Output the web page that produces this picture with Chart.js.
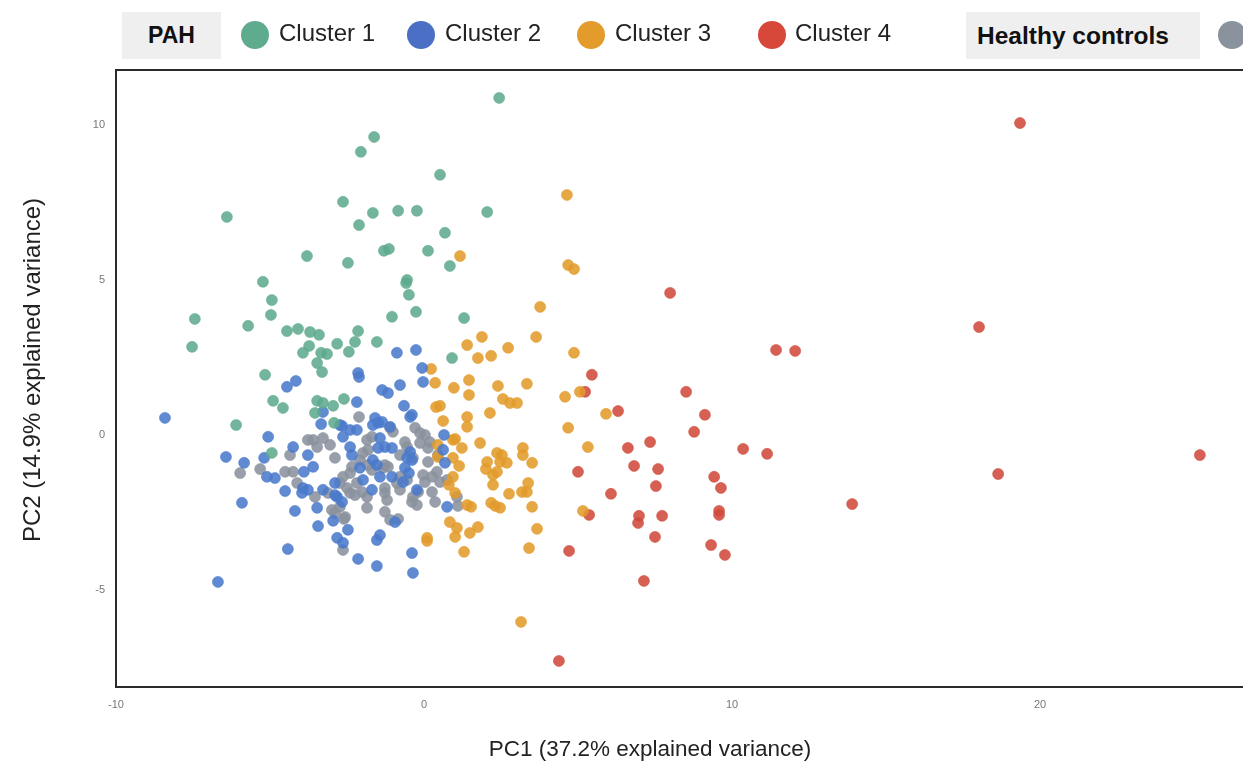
<!DOCTYPE html>
<html>
<head>
<meta charset="utf-8">
<script src="https://cdn.jsdelivr.net/npm/chart.js@4"></script>
<style>
  html, body { margin: 0; padding: 0; background: #fff; overflow: hidden; }
  #wrap { position: relative; width: 1243px; height: 766px; font-family: "Liberation Sans", Arial, sans-serif; }
  #chart { position: absolute; left: 0; top: 0; }
  .box { position: absolute; top: 12px; height: 47px; background: #efefef; font-weight: bold; color: #111;
         display: flex; align-items: center; justify-content: center; }
  .dot { position: absolute; top: 21px; width: 28px; height: 28px; border-radius: 50%; }
  .lab { position: absolute; top: 18px; font-size: 24px; color: #222; line-height: 30px; white-space: nowrap; }
</style>
</head>
<body>
<div id="wrap">
  <canvas id="chart" width="1243" height="766"></canvas>
  <div class="box" style="left:122px;width:99px;font-size:23px;">PAH</div>
  <div class="dot" style="left:241px;background:#5fab8e;"></div>
  <div class="lab" style="left:279px;">Cluster 1</div>
  <div class="dot" style="left:407px;background:#4a6fc4;"></div>
  <div class="lab" style="left:445px;">Cluster 2</div>
  <div class="dot" style="left:577px;background:#e39b2b;"></div>
  <div class="lab" style="left:615px;">Cluster 3</div>
  <div class="dot" style="left:758px;background:#d7473a;"></div>
  <div class="lab" style="left:795px;">Cluster 4</div>
  <div class="box" style="left:966px;width:234px;font-size:24.5px;justify-content:flex-start;padding-left:11px;box-sizing:border-box;">Healthy controls</div>
  <div class="dot" style="left:1218px;background:#8a929e;"></div>
</div>
<script>
// PCA scores, [PC1, PC2]
const cluster1 = [
  [2.44,10.87],[-1.62,9.61],[-2.05,9.13],[0.52,8.39],[-2.63,7.52],[-6.40,7.03],[-1.66,7.16],
  [-0.84,7.23],[-0.23,7.23],[2.05,7.19],[-2.11,6.77],[0.68,6.52],[-1.30,5.94],[-1.14,6.00],
  [0.13,5.94],[-3.80,5.77],[-2.47,5.55],[0.84,5.45],[-5.23,4.94],[-0.55,5.00],[-0.58,4.90],
  [-4.94,4.35],[-0.49,4.52],[-4.97,3.87],[-7.44,3.74],[-0.26,3.97],[-1.04,3.81],[1.30,3.77],
  [-5.71,3.52],[-7.53,2.84],[-4.45,3.35],[-4.09,3.42],[-3.70,3.32],[-3.41,3.23],[-2.14,3.35],
  [-2.24,3.00],[-2.82,2.94],[-3.73,2.87],[-1.53,3.00],[-2.44,2.68],[-3.93,2.65],[-3.34,2.65],
  [-3.15,2.61],[0.91,2.48],[-3.47,2.32],[-3.31,2.03],[-5.16,1.94],[-4.90,1.10],[-4.58,0.87],
  [-3.47,1.10],[-3.28,1.03],[-2.95,0.94],[-2.60,1.16],[-3.54,0.71],[-6.10,0.32],[-2.92,0.39],
  [-4.94,-0.58]
];
const cluster2 = [
  [-0.88,2.65],[-0.26,2.74],[-4.45,1.55],[-4.16,1.74],[-3.28,0.74],[-8.41,0.55],[-3.34,0.35],
  [-2.66,0.29],[-5.06,-0.06],[-4.25,-0.39],[-6.43,-0.71],[-5.84,-0.90],[-5.19,-0.74],[-5.10,-1.35],
  [-4.84,-1.39],[-3.90,-1.19],[-4.51,-1.81],[-3.93,-1.71],[-3.96,-1.87],[-3.28,-1.77],[-2.89,-1.55],
  [-5.91,-2.19],[-4.19,-2.45],[-3.47,-2.35],[-2.95,-2.77],[-3.44,-2.94],[-2.82,-2.00],[-2.66,-2.16],
  [-2.82,-3.32],[-2.63,-3.48],[-4.42,-3.68],[-6.69,-4.74],[-2.14,2.00],[-2.11,1.87],[-0.06,2.16],
  [-0.03,1.71],[-0.78,1.61],[-1.36,1.45],[-1.17,1.35],[-2.18,1.06],[-0.65,0.94],[-0.39,0.65],
  [-1.59,0.55],[-1.36,0.42],[-2.40,0.16],[-2.18,0.16],[-1.10,0.26],[0.65,0.00],[-2.63,-0.06],
  [-2.40,-0.39],[-2.34,-0.65],[-1.43,-0.10],[-1.27,-0.39],[-1.49,-0.42],[-1.66,-0.81],[-0.55,-0.74],
  [-0.45,-0.55],[-0.39,-0.81],[-3.60,-1.03],[-2.08,-1.06],[-1.43,-1.35],[-1.04,-1.35],[0.68,-0.90],
  [-0.62,-1.06],[-0.49,-1.23],[-3.77,-1.77],[-2.89,-1.94],[-1.69,-1.77],[0.75,-2.32],[-2.47,-3.06],
  [-1.53,-3.39],[-1.43,-3.23],[-2.14,-4.00],[-1.53,-4.23],[-0.39,-3.81],[-0.36,-4.45],[0.62,-0.48],
  [-0.45,0.58],[-1.49,0.39],[-1.04,-0.42],[-1.53,-0.97],[-0.68,-1.52],[-0.23,-1.77],[-0.94,-2.81],
  [-3.77,-0.65],[-2.73,0.32],[-1.98,-1.45],[-1.66,0.32]
];
const cluster3 = [
  [1.17,5.77],[1.40,2.90],[1.88,3.16],[2.73,2.81],[1.75,2.48],[2.18,2.55],[0.23,2.13],[0.36,1.68],
  [0.97,1.52],[0.39,0.90],[0.52,0.94],[0.62,0.45],[0.94,-0.16],[0.94,-1.35],[1.01,-1.87],[0.10,-3.32],
  [0.84,-2.81],[1.07,-3.00],[1.01,-3.29],[4.64,7.74],[4.68,5.48],[4.87,5.35],[3.77,4.13],[3.64,3.16],
  [4.87,2.65],[1.46,1.77],[1.46,1.29],[2.40,1.58],[3.34,1.65],[4.58,1.23],[5.06,1.39],[2.56,1.16],
  [2.79,1.03],[3.02,1.03],[2.14,0.71],[1.40,0.58],[1.40,0.26],[4.68,0.23],[5.32,-0.39],[1.82,-0.26],
  [1.01,-0.13],[1.23,-0.42],[3.21,-0.42],[3.21,-0.65],[2.37,-0.58],[2.53,-0.65],[2.69,-0.90],
  [2.47,-0.87],[2.05,-0.87],[2.01,-1.10],[2.24,-1.29],[2.37,-1.19],[2.24,-1.61],[3.51,-0.90],
  [1.14,-1.00],[0.81,-1.61],[0.45,-0.32],[0.45,-0.71],[3.38,-1.55],[3.18,-1.84],[3.34,-1.84],
  [2.76,-1.90],[2.18,-2.19],[2.31,-2.29],[2.47,-2.35],[3.51,-2.32],[1.53,-2.32],[5.16,-2.45],
  [3.67,-3.03],[1.49,-3.16],[1.75,-2.97],[0.10,-3.42],[1.30,-3.77],[3.41,-3.65],[3.15,-6.03],
  [0.94,-0.74],[1.40,-2.26],[5.91,0.68]
];
const cluster4 = [
  [5.45,1.94],[5.23,1.39],[5.00,-1.19],[5.36,-2.58],[4.71,-3.74],[4.38,-7.29],[7.99,4.58],
  [11.43,2.74],[12.05,2.71],[8.51,1.39],[6.30,0.77],[9.12,0.65],[8.77,0.10],[6.62,-0.42],
  [7.34,-0.23],[10.36,-0.45],[11.14,-0.61],[6.82,-1.00],[7.60,-1.10],[9.42,-1.35],[9.64,-1.71],
  [7.53,-1.65],[6.07,-1.90],[6.98,-2.61],[6.95,-2.84],[7.73,-2.61],[9.58,-2.45],[9.58,-2.58],
  [7.50,-3.29],[9.32,-3.55],[9.77,-3.87],[7.14,-4.71],[19.35,10.06],[18.02,3.48],[18.64,-1.26],
  [13.90,-2.23],[25.19,-0.65]
];
const healthy = [
  [-2.11,0.58],[-1.01,0.10],[-0.29,0.23],[-0.13,0.06],[0.03,0.00],[0.19,-0.23],[-3.60,-0.16],
  [-3.28,-0.10],[-3.05,-0.32],[-3.47,-0.39],[-3.77,-0.16],[-4.35,-0.65],[-5.97,-1.23],[-5.32,-1.10],
  [-4.51,-1.19],[-4.25,-1.19],[-2.89,-0.74],[-4.12,-1.55],[-3.54,-2.00],[-2.99,-2.42],[-2.60,-2.71],
  [-2.63,-3.71],[-1.85,-0.16],[-1.69,-0.06],[-1.98,-0.58],[-1.82,-0.48],[-2.08,-0.81],[-0.78,-0.65],
  [-0.55,-0.39],[-2.34,-1.03],[-2.40,-1.23],[-2.63,-1.35],[-2.73,-1.55],[-1.69,-1.13],[-1.33,-1.06],
  [-1.17,-1.03],[-0.78,-1.35],[-0.55,-1.45],[-0.03,-1.29],[0.26,-1.35],[0.42,-1.19],[0.03,-1.52],
  [0.52,-1.52],[0.75,-1.45],[-3.12,-1.87],[-2.40,-1.87],[-2.24,-1.94],[-2.01,-1.84],[-1.27,-1.71],
  [-1.20,-2.10],[-0.88,-1.55],[-0.78,-1.77],[-0.19,-1.84],[-0.39,-2.16],[-0.23,-2.26],[0.26,-1.84],
  [0.36,-2.16],[-2.73,-2.32],[-2.89,-2.52],[-1.85,-2.35],[-1.27,-2.48],[-1.10,-2.74],[-0.84,-2.71],
  [1.07,-2.00],[1.10,-2.29],[-0.13,-0.26],[-0.62,-0.23],[0.13,-0.42],[-0.36,-0.74],[0.13,-0.87],
  [0.45,-0.65],[-1.10,0.23],[-1.27,-0.97],[-0.36,-2.00],[-1.27,-1.87],[-1.82,-0.97],[-2.18,-1.55],
  [-2.50,-1.71],[-1.85,-2.00],[-2.56,-2.65]
];

const xTicks = [-10, 0, 10, 20];
const yTicks = [-5, 0, 5, 10];
const xTitle = "PC1 (37.2% explained variance)";
const yTitle = "PC2 (14.9% explained variance)";

function pts(arr) { return arr.map(p => ({x: p[0], y: p[1]})); }
function ds(label, arr, color) {
  return {
    label: label,
    data: pts(arr),
    backgroundColor: color + "e0",
    borderColor: color + "90",
    borderWidth: 1,
    pointRadius: 5.5,
    pointHoverRadius: 5.5
  };
}

// frame round the plot area plus the two axis titles
const framePlugin = {
  id: 'frame',
  afterDraw(chart) {
    const c = chart.ctx, a = chart.chartArea;
    c.save();
    c.strokeStyle = '#2a2a2a';
    c.lineWidth = 2;
    c.strokeRect(a.left, a.top, a.right - a.left + 4, a.bottom - a.top);
    c.fillStyle = '#222';
    c.font = '22.5px "Liberation Sans", Arial, sans-serif';
    c.textAlign = 'center';
    c.textBaseline = 'middle';
    c.fillText(xTitle, 650, 750);
    c.translate(33, 370);
    c.rotate(-Math.PI / 2);
    c.font = '24px "Liberation Sans", Arial, sans-serif';
    c.fillText(yTitle, 0, 0);
    c.restore();
  }
};

new Chart(document.getElementById('chart'), {
  type: 'scatter',
  data: {
    datasets: [
      ds('Cluster 1', cluster1, '#5fab8e'),
      ds('Cluster 2', cluster2, '#4a7acb'),
      ds('Cluster 3', cluster3, '#e39b2b'),
      ds('Cluster 4', cluster4, '#d04a3c'),
      ds('Healthy controls', healthy, '#8a929e')
    ]
  },
  options: {
    responsive: false,
    animation: false,
    devicePixelRatio: 1,
    layout: { autoPadding: false, padding: { top: 70, right: 0, left: 0, bottom: 0 } },
    plugins: { legend: { display: false }, tooltip: { enabled: false } },
    scales: {
      x: {
        type: 'linear',
        min: -10,
        max: 26.59,
        grid: { display: false, drawTicks: false },
        border: { display: false },
        afterFit(scale) { scale.height = 79; },
        afterBuildTicks(scale) { scale.ticks = xTicks.map(v => ({value: v})); },
        ticks: { padding: 11, color: '#777', font: { size: 11, family: '"Liberation Sans", Arial' } }
      },
      y: {
        type: 'linear',
        min: -8.13,
        max: 11.77,
        grid: { display: false, drawTicks: false },
        border: { display: false },
        afterFit(scale) { scale.width = 116; },
        afterBuildTicks(scale) { scale.ticks = yTicks.map(v => ({value: v})); },
        ticks: { padding: 11, color: '#777', font: { size: 11, family: '"Liberation Sans", Arial' } }
      }
    }
  },
  plugins: [framePlugin]
});
</script>
</body>
</html>
